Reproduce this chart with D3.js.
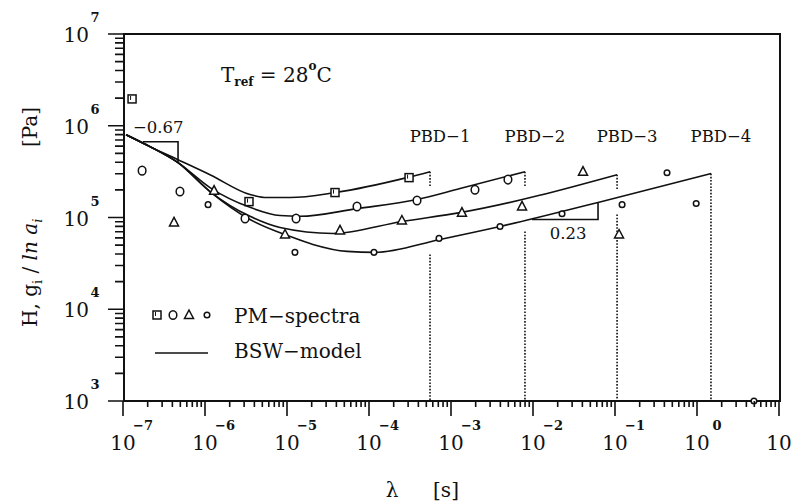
<!DOCTYPE html>
<html><head><meta charset="utf-8">
<script src="https://cdn.jsdelivr.net/npm/d3@7"></script>
<style>
body{margin:0;background:#fff}
text{font-family:"DejaVu Serif",serif;fill:#111}
</style>
</head><body>
<svg id="chart" width="795" height="504"></svg>
<script>
// ---------- DATA ----------
const xTickExps   = [-7,-6,-5,-4,-3,-2,-1,0,1];
const xTickSup    = ["−7","−6","−5","−4","−3","−2","−1","0",""];
const yTickExps   = [3,4,5,6,7];
const yTickSup    = ["3","4","5","6","7"];

const seriesNames = ["PBD−1","PBD−2","PBD−3","PBD−4"];

// BSW-model curves (λ [s], H [Pa])
const bsw1Lambda = [1.09e-7,2.13e-7,4.69e-7,1.15e-6,3.54e-6,5.70e-6,1.09e-5,3.85e-5,2.90e-4,5.55e-4];
const bsw1H      = [7.98e5,5.92e5,4.27e5,2.93e5,1.78e5,1.65e5,1.65e5,1.87e5,2.72e5,3.16e5];
const bsw2Lambda = [1.09e-7,2.13e-7,4.69e-7,1.15e-6,3.54e-6,8.22e-6,1.44e-5,7.14e-5,3.85e-4,1.29e-3,7.98e-3];
const bsw2H      = [7.98e5,5.92e5,3.96e5,2.12e5,1.29e5,1.05e5,1.03e5,1.25e5,1.57e5,2.07e5,3.16e5];
const bsw3Lambda = [1.09e-7,2.13e-7,4.69e-7,1.15e-6,3.54e-6,8.22e-6,3.64e-5,2.52e-4,1.29e-3,0.106];
const bsw3H      = [7.98e5,5.92e5,3.96e5,1.92e5,1.03e5,7.78e4,6.70e4,9.06e4,1.13e5,2.93e5];
const bsw4Lambda = [1.09e-7,2.13e-7,4.69e-7,1.15e-6,3.54e-6,1.09e-5,2.07e-5,5.40e-5,1.18e-4,7.35e-4,3.96e-3,6.21e-2,1.48];
const bsw4H      = [7.98e5,5.92e5,3.96e5,1.92e5,9.51e4,6.21e4,5.09e4,4.27e4,4.17e4,5.77e4,7.98e4,1.46e5,3.01e5];

// PM-spectra points
const pm1Lambda = [1.29e-7,3.44e-6,3.85e-5,3.08e-4];
const pm1H      = [1.96e6,1.49e5,1.87e5,2.72e5];
const pm2Lambda = [1.71e-7,4.95e-7,3.08e-6,1.29e-5,7.14e-5,3.85e-4,1.96e-3,4.95e-3];
const pm2H      = [3.24e5,1.92e5,9.75e4,9.75e4,1.32e5,1.53e5,2.01e5,2.59e5];
const pm3Lambda = [4.19e-7,1.29e-6,9.46e-6,4.43e-5,2.52e-4,1.36e-3,7.35e-3,4.07e-2,0.112];
const pm3H      = [8.83e4,1.96e5,6.53e4,7.23e4,9.27e4,1.13e5,1.32e5,3.16e5,6.53e4];
const pm4Lambda = [1.09e-6,1.25e-5,1.15e-4,7.14e-4,3.96e-3,2.26e-2,0.122,0.431,0.977,4.95];
const pm4H      = [1.38e5,4.17e4,4.17e4,5.92e4,7.98e4,1.10e5,1.38e5,3.08e5,1.42e5,1.0e3];

// longest relaxation times (dotted lines)
const pbdLambda     = [5.55e-4,7.98e-3,0.106,1.48];
const pbdTopH       = [3.16e5,3.16e5,2.93e5,3.01e5];
const pbdGapTopH    = [2.12e5,2.12e5,2.01e5,null];
const pbdGapBottomH = [3.96e4,7.05e4,1.08e5,null];

// slope triangles
const slopeLabels = ["−0.67","0.23"];
const slopeLambda = [[1.75e-7,4.69e-7],[9.73e-3,6.21e-2]];
const slopeH      = [[6.70e5,3.96e5],[9.51e4,1.46e5]];

const yMin = 1e3, yMax = 1e7, xMin = 1e-7, xMax = 10;

// ---------- CHART ----------
const svg = d3.select("#chart");
svg.append("rect").attr("width",795).attr("height",504).attr("fill","#fff");

const x = d3.scaleLog().domain([xMin,xMax]).range([123,779]);
const y = d3.scaleLog().domain([yMin,yMax]).range([401,34]);

const ink = "#111";

const xMajor = xTickExps.map(e => Math.pow(10,e));
const yMajor = yTickExps.map(e => Math.pow(10,e));
const isMajor = v => Math.abs(Math.log10(v) - Math.round(Math.log10(v))) < 1e-6;

// frame
svg.append("rect")
  .attr("x",x(xMin)+1).attr("y",y(yMax))
  .attr("width",x(xMax)-x(xMin)).attr("height",y(yMin)-y(yMax))
  .attr("fill","none").attr("stroke",ink).attr("stroke-width",2);

// x tick labels
const xl = svg.append("g");
xMajor.forEach((v,i) => {
  xl.append("text").attr("x",x(v)).attr("y",450).attr("text-anchor","middle")
    .attr("font-size",20).text("10");
  if (xTickSup[i]) xl.append("text").attr("x",x(v)+20).attr("y",430).attr("text-anchor","middle")
    .attr("font-size",13).attr("font-weight","bold").text(xTickSup[i]);
});
// y tick labels
const yl = svg.append("g");
yMajor.forEach((v,i) => {
  yl.append("text").attr("x",89).attr("y",y(v)+8).attr("text-anchor","end")
    .attr("font-size",20).text("10");
  yl.append("text").attr("x",95).attr("y",y(v)-12).attr("text-anchor","middle")
    .attr("font-size",13).attr("font-weight","bold").text(yTickSup[i]);
});

// axis titles
svg.append("text").attr("x",392).attr("y",497).attr("text-anchor","middle").attr("font-size",20).text("λ");
svg.append("text").attr("x",446).attr("y",497).attr("text-anchor","middle").attr("font-size",20).text("[s]");

const yt = svg.append("text").attr("transform","translate(37,327) rotate(-90)")
  .attr("text-anchor","start").attr("font-size",20);
yt.append("tspan").text("H, g");
yt.append("tspan").attr("font-size",13).attr("dy",5).text("i");
yt.append("tspan").attr("dy",-5).text(" / ");
yt.append("tspan").attr("font-style","italic").text("ln a");
yt.append("tspan").attr("font-size",13).attr("font-style","italic").attr("dy",5).text("i");
svg.append("text").attr("transform","translate(37,107) rotate(-90)")
  .attr("text-anchor","end").attr("font-size",20).text("[Pa]");

// T_ref annotation
const tr = svg.append("text").attr("x",221).attr("y",82).attr("font-size",20);
tr.append("tspan").text("T");
tr.append("tspan").attr("font-size",12).attr("font-weight","bold").attr("dy",4).text("ref");
tr.append("tspan").attr("dy",-4).text(" = 28");
tr.append("tspan").attr("font-size",12).attr("font-weight","bold").attr("dy",-12).text("o");
tr.append("tspan").attr("dy",12).text("C");

// dotted lines
const dots = svg.append("g").attr("stroke",ink).attr("stroke-width",1.6).attr("stroke-dasharray","1.6,1.6").attr("fill","none");
pbdLambda.forEach((l,i) => {
  if (pbdGapTopH[i] === null) {
    dots.append("line").attr("x1",x(l)).attr("x2",x(l)).attr("y1",y(pbdTopH[i])).attr("y2",y(yMin));
  } else {
    dots.append("line").attr("x1",x(l)).attr("x2",x(l)).attr("y1",y(pbdTopH[i])).attr("y2",y(pbdGapTopH[i]));
    dots.append("line").attr("x1",x(l)).attr("x2",x(l)).attr("y1",y(pbdGapBottomH[i])).attr("y2",y(yMin));
  }
});

// PBD labels
pbdLambda.forEach((l,i) => {
  svg.append("text").attr("x",x(l)+10).attr("y",142).attr("text-anchor","middle")
    .attr("font-size",16.5).text(seriesNames[i]);
});

// model curves
const lineGen = d3.line().x(d => x(d[0])).y(d => y(d[1])).curve(d3.curveMonotoneX);
[[bsw1Lambda,bsw1H],[bsw2Lambda,bsw2H],[bsw3Lambda,bsw3H],[bsw4Lambda,bsw4H]].forEach(([L,Hh]) => {
  svg.append("path").datum(d3.zip(L,Hh)).attr("d",lineGen)
    .attr("fill","none").attr("stroke",ink).attr("stroke-width",1.6);
});

// slope triangles
slopeLambda.forEach((L,i) => {
  const Hh = slopeH[i];
  svg.append("path")
    .attr("d", d3.line()([[x(L[0]),y(Hh[0])],[x(L[1]),y(Hh[0])],[x(L[1]),y(Hh[1])]]))
    .attr("fill","none").attr("stroke",ink).attr("stroke-width",1.6);
});
svg.append("text").attr("x",x(slopeLambda[0][0])-10).attr("y",y(slopeH[0][0])-9)
  .attr("font-size",16.5).text(slopeLabels[0]);
svg.append("text").attr("x",(x(slopeLambda[1][0])+x(slopeLambda[1][1]))/2+3).attr("y",y(slopeH[1][0])+19)
  .attr("text-anchor","middle").attr("font-size",16.5).text(slopeLabels[1]);

// markers
const mk = svg.append("g").attr("fill","#fff").attr("stroke",ink).attr("stroke-width",1.5);
function drawSquare(g,cx,cy){
  g.append("rect").attr("x",cx-4).attr("y",cy-4).attr("width",8).attr("height",8);
  g.append("line").attr("x1",cx-1.5).attr("x2",cx-1.5).attr("y1",cy-3).attr("y2",cy+1).attr("stroke-width",1);
}
function drawCircleBig(g,cx,cy){ g.append("ellipse").attr("cx",cx).attr("cy",cy).attr("rx",3.8).attr("ry",4.3); }
function drawTri(g,cx,cy){ g.append("path").attr("d",`M${cx},${cy-5}L${cx+4.5},${cy+3.5}L${cx-4.5},${cy+3.5}Z`); }
function drawCircleSmall(g,cx,cy){ g.append("circle").attr("cx",cx).attr("cy",cy).attr("r",2.8); }
const markerFns = [drawSquare,drawCircleBig,drawTri,drawCircleSmall];
[[pm1Lambda,pm1H],[pm2Lambda,pm2H],[pm3Lambda,pm3H],[pm4Lambda,pm4H]].forEach(([L,Hh],k) => {
  L.forEach((l,j) => markerFns[k](mk, x(l), y(Hh[j])));
});

// legend
const lg = svg.append("g");
const lgm = lg.append("g").attr("fill","#fff").attr("stroke",ink).attr("stroke-width",1.5);
[157,173,189,207].forEach((px,k) => markerFns[k](lgm,px,315));
lg.append("line").attr("x1",155).attr("x2",208).attr("y1",353).attr("y2",353).attr("stroke",ink).attr("stroke-width",1.6);
lg.append("text").attr("x",234).attr("y",323).attr("font-size",20).text("PM−spectra");
lg.append("text").attr("x",234).attr("y",358).attr("font-size",20).text("BSW−model");

// ticks, from the scales' own tick generators, drawn last as one path
const x0 = x(xMin) + 1, yb = y(yMin);
const tickPath = d3.path();
x.ticks().forEach(d => {
  tickPath.moveTo(x(d), yb);
  tickPath.lineTo(x(d), yb + (isMajor(d) ? 15 : 6));
});
y.ticks().forEach(d => {
  tickPath.moveTo(x0, y(d));
  tickPath.lineTo(x0 - (isMajor(d) ? 16 : 9), y(d));
});
svg.append("path").attr("class","ticks").attr("d", tickPath.toString())
  .attr("fill","none").attr("stroke",ink).attr("stroke-width",1.6);
</script>
</body></html>
